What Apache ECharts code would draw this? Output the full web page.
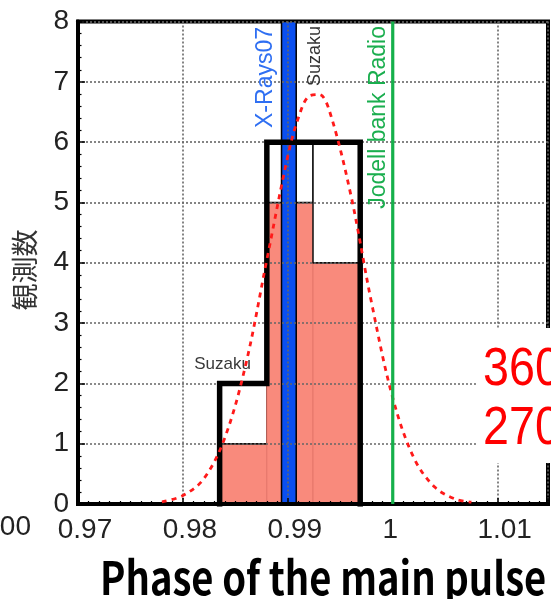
<!DOCTYPE html>
<html><head><meta charset="utf-8">
<script src="https://cdn.jsdelivr.net/npm/echarts@6/dist/echarts.min.js"></script>
<style>html,body{margin:0;padding:0;background:#fff}#c{width:551px;height:599px}</style>
</head><body><div id="c"></div>
<script>
// ---- data ----
const binEdges = [0.9835, 0.9880, 0.9924, 0.9969];
const countsRed = [1, 5, 4];
const countsSuzaku = [1, 1, 2];
const curveX = [0.978, 0.980, 0.982, 0.984, 0.986, 0.988, 0.990, 0.991, 0.992, 0.993, 0.994, 0.996, 0.998, 1.000, 1.002, 1.004, 1.006, 1.0075];
const curveY = [0.035, 0.14, 0.42, 1.10, 2.32, 4.05, 5.77, 6.40, 6.76, 6.79, 6.50, 5.13, 3.32, 1.76, 0.77, 0.28, 0.08, 0.03];
const xRays07Band = [0.9894, 0.9908];
const jodrellBankPhase = 1.0;
const suzakuPeakPhase = 0.9926;
const xTickLabels = ['0.97', '0.98', '0.99', '1', '1.01'];
const yTickLabels = ['0', '1', '2', '3', '4', '5', '6', '7', '8'];
const annotationTexts = ['X-Rays07', 'Suzaku', 'Jodell bank Radio', 'Suzaku'];
const xTitle = 'Phase of the main pulse';
const yTitle = '観測数';
const boxTexts = ['360', '270'];
const leftNeighbourLabel = '1.00';

// ---- derived ----
const totals = countsRed.map((c, i) => c + countsSuzaku[i]);
const outline = [[binEdges[0], 0]];
totals.forEach((t, i) => { outline.push([binEdges[i], t]); outline.push([binEdges[i + 1], t]); });
outline.push([binEdges[binEdges.length - 1], 0]);
const curve = curveX.map((x, i) => [x, curveY[i]]);
const yMax = 8;
const annotationAnchors = [
  [xRays07Band[0], yMax],
  [suzakuPeakPhase, yMax],
  [jodrellBankPhase, yMax],
  [binEdges[0], totals[0]]
];
const annotationStyles = [
  {rot: true, dx: -16, topY: 27, color: '#2f6ff2', size: 23},
  {rot: true, dx: 0, topY: 26, color: '#333', size: 18},
  {rot: true, dx: -14, topY: 26, color: '#1aae4e', size: 23},
  {rot: false, dx: 3, dy: -19, color: '#3a3a3a', size: 17}
];

const FONT = "'Liberation Sans', Arial, sans-serif";
const LBL = 28;
const chart = echarts.init(document.getElementById('c'), null, {renderer: 'canvas'});
chart.setOption({
  animation: false,
  grid: {left: 78, right: 3, top: 21.5, bottom: 95, show: true, borderColor: '#000', borderWidth: 4, backgroundColor: 'transparent'},
  xAxis: {
    type: 'value', min: 0.97, max: 1.0148, interval: 0.01, z: 3,
    axisLine: {lineStyle: {color: '#000', width: 4}},
    axisTick: {inside: true, length: 6, lineStyle: {color: '#000', width: 1.5}},
    minorTick: {show: true, splitNumber: 10, length: 3, lineStyle: {color: '#000', width: 1.2}},
    splitLine: {show: true, lineStyle: {color: '#666', width: 1.6, type: [2, 2]}},
    axisLabel: {
      showMaxLabel: false, margin: 12, color: '#222', fontSize: LBL, fontFamily: FONT,
      formatter: v => {
        const k = Math.round((v - 0.97) / 0.01);
        const t = xTickLabels[k] || '';
        return t === '1' ? '{o|' + t + '}' : '{n|' + t + '}';
      },
      rich: {
        n: {fontSize: LBL, fontFamily: FONT, color: '#222', padding: [0, 0, 0, 14]},
        o: {fontSize: LBL, fontFamily: FONT, color: '#222', padding: [0, 5, 0, 0]}
      }
    }
  },
  yAxis: {
    type: 'value', min: 0, max: 8, interval: 1, z: 3,
    axisLine: {show: true, lineStyle: {color: '#000', width: 4}},
    axisTick: {show: true, inside: true, length: 7, lineStyle: {color: '#000', width: 1.5}},
    minorTick: {show: true, splitNumber: 5, length: 3.5, lineStyle: {color: '#000', width: 1.2}},
    splitLine: {show: true, lineStyle: {color: '#666', width: 1.6, type: [2, 2]}},
    axisLabel: {margin: 9, color: '#222', fontSize: LBL, fontFamily: FONT, formatter: v => yTickLabels[Math.round(v)] || ''}
  },
  series: [
    {
      type: 'custom', name: 'histogram', z: 1,
      data: countsRed.map((c, i) => [binEdges[i], binEdges[i + 1], c, countsSuzaku[i]]),
      encode: {x: [0, 1], y: [2]},
      renderItem: (params, api) => {
        const x0 = api.value(0), x1 = api.value(1), r = api.value(2), s = api.value(3);
        const p0 = api.coord([x0, 0]), p1 = api.coord([x1, r]), p2 = api.coord([x1, r + s]);
        return {type: 'group', children: [
          {type: 'rect', shape: {x: p0[0], y: p1[1], width: p1[0] - p0[0], height: p0[1] - p1[1]}, style: {fill: '#f98a7c', stroke: '#e5776a', lineWidth: 1}},
          {type: 'line', shape: {x1: p0[0], y1: p1[1], x2: p1[0], y2: p1[1]}, style: {stroke: '#222', lineWidth: 1.5}},
          {type: 'rect', shape: {x: p0[0], y: p2[1], width: p1[0] - p0[0], height: p1[1] - p2[1]}, style: {fill: '#fff', stroke: '#111', lineWidth: 1.5}}
        ]};
      }
    },
    {
      type: 'custom', name: 'X-Rays07', z: 2,
      data: [[xRays07Band[0], xRays07Band[1]]],
      encode: {x: [0, 1]},
      renderItem: (params, api) => {
        const a = api.coord([api.value(0), 0]), b = api.coord([api.value(1), yMax]);
        return {type: 'rect', shape: {x: a[0], y: b[1], width: b[0] - a[0], height: a[1] - b[1]}, style: {fill: '#0a4ff0', stroke: '#000', lineWidth: 1.5}};
      }
    },
    {
      type: 'line', name: 'total', z: 4, data: outline, symbol: 'none',
      lineStyle: {color: '#000', width: 5.5, join: 'miter', cap: 'square'}
    },
    {
      type: 'line', name: 'fit', z: 5, data: curve, symbol: 'none', smooth: 0.35,
      lineStyle: {color: '#ff1a1a', width: 2.8, type: [5, 5]}
    },
    {
      type: 'line', name: 'Jodrell', z: 5, data: [[jodrellBankPhase, 0], [jodrellBankPhase, yMax]], symbol: 'none',
      lineStyle: {color: '#16b04b', width: 3.2}
    },
    {
      type: 'custom', name: 'annotations', z: 6,
      data: annotationAnchors.map((a, i) => [a[0], a[1], i]),
      encode: {x: 0, y: 1},
      renderItem: (params, api) => {
        const i = api.value(2);
        const st = annotationStyles[i];
        const p = api.coord([api.value(0), api.value(1)]);
        if (st.rot) {
          return {type: 'text', x: p[0] + st.dx, y: st.topY, rotation: Math.PI / 2,
            style: {text: annotationTexts[i], fill: st.color, fontSize: st.size, fontFamily: FONT, align: 'right', verticalAlign: 'middle'}};
        }
        return {type: 'text', x: p[0] + st.dx, y: p[1] + st.dy,
          style: {text: annotationTexts[i], fill: st.color, fontSize: st.size, fontFamily: FONT, align: 'center', verticalAlign: 'middle'}};
      }
    }
  ],
  graphic: [
    {type: 'text', x: 31, y: 513, z: 50, style: {text: leftNeighbourLabel, fill: '#222', fontSize: LBL, fontFamily: FONT, align: 'right', verticalAlign: 'top'}},
    {type: 'text', x: 100, y: 578, z: 50, scaleX: 0.83, style: {text: xTitle, fill: '#000', fontSize: 46, fontWeight: 'bold', fontFamily: "'Noto Sans CJK JP', sans-serif", align: 'left', verticalAlign: 'middle'}},
    {type: 'text', x: 25, y: 270, z: 50, rotation: Math.PI / 2, style: {text: yTitle, fill: '#333', fontSize: 27, fontFamily: "'Noto Sans CJK JP', sans-serif", align: 'center', verticalAlign: 'middle'}},
    {type: 'rect', z: 100, shape: {x: 478, y: 328, width: 80, height: 135}, style: {fill: '#fff'}},
    {type: 'text', z: 101, x: 483, y: 370, scaleX: 0.88, style: {text: boxTexts[0], fill: '#ff0000', fontSize: 53, fontFamily: FONT, align: 'left', verticalAlign: 'middle'}},
    {type: 'text', z: 101, x: 483, y: 429, scaleX: 0.88, style: {text: boxTexts[1], fill: '#ff0000', fontSize: 53, fontFamily: FONT, align: 'left', verticalAlign: 'middle'}}
  ]
});
</script></body></html>
